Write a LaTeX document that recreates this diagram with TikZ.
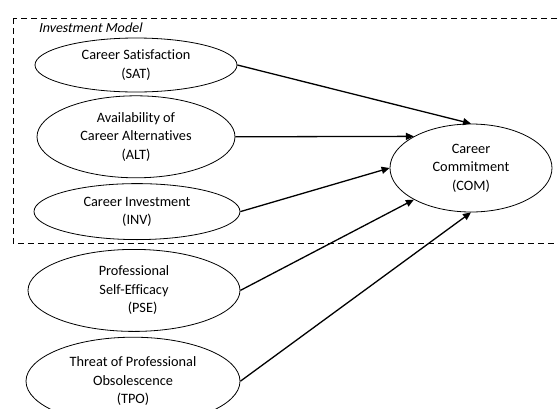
\documentclass[tikz,border=0pt]{standalone}
\usepackage{fontspec}
\setmainfont{Carlito}[Ligatures=NoCommon]
\newfontfamily\slantfont[FakeSlant=0.2,Ligatures=NoCommon]{Carlito}
\usetikzlibrary{arrows.meta,positioning,shapes.geometric}

\begin{document}
\begin{tikzpicture}[
  x=1pt,y=-1pt,
  node distance=4pt,
  latent/.style={draw,ellipse,inner sep=0pt,line width=0.8pt,align=center,font=\fontsize{14.3}{18.5}\selectfont},
  path/.style={-{Triangle[length=8pt,width=7pt]},line width=1.3pt},
  ann/.style={font=\slantfont\fontsize{13.9}{14}\selectfont,anchor=west}
]
\useasboundingbox (0,0) rectangle (558,408);

% investment model block
\draw[dashed,line width=1pt,dash pattern=on 6pt off 4pt] (13,18) rectangle (580,243);
\node[ann] (im) at (35,28) {Investment Model};

\node[latent,minimum width=202pt,minimum height=54pt] (sat) at (136,65) {Career Satisfaction\\(SAT)};
\node[latent,minimum width=198pt,minimum height=82pt,below=3pt of sat] (alt) {Availability of\\Career Alternatives\\(ALT)};
\node[latent,minimum width=206pt,minimum height=56pt,below=5pt of alt,xshift=1pt] (inv) {Career Investment\\(INV)};

% outside the block
\node[latent,minimum width=212pt,minimum height=82pt,below=9pt of inv,xshift=-3pt] (pse) {Professional\\Self-Efficacy\\\hspace{1.2em}(PSE)};
\node[latent,minimum width=214pt,minimum height=88pt,below=5pt of pse,xshift=-1pt] (tpo) {Threat of Professional\\Obsolescence\\(TPO)};

\node[latent,minimum width=162pt,minimum height=88pt] (com) at (471,168) {Career\\Commitment\\(COM)};

\draw[path] (sat.east) -- (com.north);
\draw[path] (alt.east) -- (com.151);
\draw[path] (inv.east) -- (com.west);
\draw[path] (pse.east) -- (com.209);
\draw[path] (tpo.east) -- (com.south);
\end{tikzpicture}
\end{document}
